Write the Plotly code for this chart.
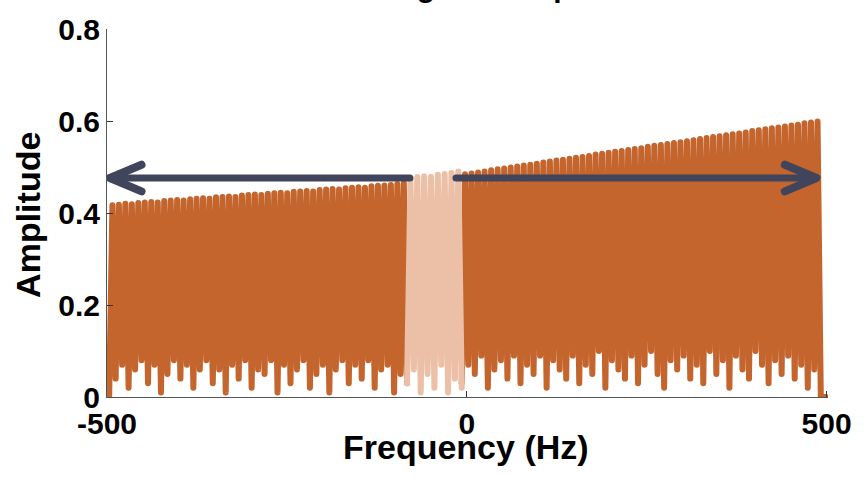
import numpy as np
import plotly.graph_objects as go

# ---------------- data ----------------
left_band = (-497, -83)     # Hz
mid_band = (-83, -7)
right_band = (-7, 492)
right_tail = (499, 0.0)

left_peaks = [0.417, 0.418, 0.420, 0.419, 0.422, 0.423, 0.424, 0.423, 0.426, 0.427,
              0.428, 0.427, 0.430, 0.431, 0.432, 0.431, 0.434, 0.435, 0.436, 0.435,
              0.438, 0.439, 0.440, 0.439, 0.442, 0.443, 0.444, 0.443, 0.446, 0.447,
              0.448, 0.447, 0.450, 0.451, 0.452, 0.451, 0.454, 0.455, 0.456, 0.455,
              0.458, 0.459, 0.460, 0.461, 0.463, 0.465]
left_troughs = [0.00, 0.04, 0.07, 0.02, 0.06, 0.08, 0.03, 0.07, 0.01, 0.05,
                0.08, 0.04, 0.07, 0.02, 0.06, 0.08, 0.03, 0.06, 0.01, 0.07,
                0.04, 0.08, 0.02, 0.06, 0.05, 0.08, 0.01, 0.07, 0.03, 0.06,
                0.08, 0.02, 0.05, 0.07, 0.01, 0.06, 0.08, 0.03, 0.07, 0.04,
                0.08, 0.02, 0.06, 0.07, 0.01, 0.05, 0.03]

mid_peaks = [0.474, 0.478, 0.480, 0.479, 0.483, 0.485, 0.487, 0.490]
mid_troughs = [0.03, 0.06, 0.01, 0.05, 0.02, 0.07, 0.01, 0.04, 0.02]

right_peaks = [0.484, 0.486, 0.488, 0.490, 0.493, 0.495, 0.497, 0.499, 0.501, 0.503,
               0.505, 0.507, 0.510, 0.512, 0.514, 0.516, 0.518, 0.520, 0.522, 0.524,
               0.527, 0.529, 0.531, 0.533, 0.535, 0.537, 0.539, 0.541, 0.544, 0.546,
               0.548, 0.550, 0.552, 0.554, 0.556, 0.558, 0.561, 0.563, 0.565, 0.567,
               0.569, 0.571, 0.573, 0.575, 0.578, 0.580, 0.582, 0.584, 0.586, 0.588,
               0.590, 0.592, 0.595, 0.597, 0.599]
right_troughs = [0.03, 0.07, 0.05, 0.09, 0.02, 0.06, 0.08, 0.04, 0.09, 0.03,
                 0.07, 0.05, 0.09, 0.02, 0.08, 0.06, 0.04, 0.09, 0.03, 0.07,
                 0.05, 0.10, 0.02, 0.08, 0.06, 0.04, 0.09, 0.03, 0.07, 0.10,
                 0.05, 0.02, 0.08, 0.06, 0.09, 0.04, 0.07, 0.03, 0.10, 0.05,
                 0.08, 0.02, 0.09, 0.06, 0.04, 0.10, 0.07, 0.03, 0.08, 0.05,
                 0.09, 0.04, 0.07, 0.02, 0.06, 0.00]

x_ticks = [-500, 0, 500]
x_ticklabels = ["-500", "0", "500"]
y_ticks = [0, 0.2, 0.4, 0.6, 0.8]
y_ticklabels = ["0", "0.2", "0.4", "0.6", "0.8"]

# arrows (Hz, amplitude)
arrow_y = 0.476
left_arrow = (-79, -496)
right_arrow = (-15, 486)
head_len = 44
head_half = 0.029

title_text = "Magnitude Spectrum"
x_title = "Frequency (Hz)"
y_title = "Amplitude"

ORANGE = "#C4652E"
LIGHT = "#ECC0A7"
NAVY = "#41455B"
FONT = "Liberation Sans, Arial, sans-serif"


def zigzag(band, peaks, troughs):
    n = len(peaks)
    f = np.linspace(band[0], band[1], 2 * n + 1)
    a = np.empty(2 * n + 1)
    a[0::2] = troughs[:n + 1]
    a[1::2] = peaks
    return f, a


fl, al = zigzag(left_band, left_peaks, left_troughs)
fm, am = zigzag(mid_band, mid_peaks, mid_troughs)
fr, ar = zigzag(right_band, right_peaks, right_troughs)
fr = np.append(fr, right_tail[0])
ar = np.append(ar, right_tail[1])

fig = go.Figure()
for f, a, c in [(fl, al, ORANGE), (fr, ar, ORANGE), (fm, am, LIGHT)]:
    fig.add_trace(go.Scatter(x=f, y=a, mode="lines", line=dict(color=c, width=6, simplify=False),
                             showlegend=False, hoverinfo="skip"))


def arrow(start, tip):
    d = 1 if tip > start else -1
    fig.add_trace(go.Scatter(x=[start, tip], y=[arrow_y, arrow_y], mode="lines",
                             line=dict(color=NAVY, width=7), showlegend=False, hoverinfo="skip"))
    fig.add_trace(go.Scatter(x=[tip - d * head_len, tip, tip - d * head_len],
                             y=[arrow_y + head_half, arrow_y, arrow_y - head_half], mode="lines",
                             line=dict(color=NAVY, width=8), showlegend=False, hoverinfo="skip"))


arrow(*left_arrow)
arrow(*right_arrow)

axis_common = dict(showgrid=False, zeroline=False, showline=True, linecolor="#555555",
                   linewidth=1, ticks="inside", ticklen=6, tickcolor="#333333",
                   tickfont=dict(family=FONT, size=30, color="black", weight="bold"))

fig.update_xaxes(range=[-500, 502], tickvals=x_ticks, ticktext=x_ticklabels, **axis_common)
fig.update_yaxes(range=[0, 0.8], tickvals=y_ticks, ticktext=y_ticklabels, **axis_common)

fig.update_layout(
    width=864, height=477,
    margin=dict(l=107, r=33, t=24, b=80),
    paper_bgcolor="white", plot_bgcolor="white",
    annotations=[
        dict(text=title_text, xref="paper", yref="paper", x=0.369, y=1.066,
             xanchor="left", yanchor="bottom", showarrow=False,
             font=dict(family=FONT, size=30, color="black", weight="bold")),
        dict(text=x_title, xref="paper", yref="paper", x=0.498, y=-0.137,
             xanchor="center", yanchor="middle", showarrow=False,
             font=dict(family=FONT, size=34, color="black", weight="bold")),
        dict(text=y_title, xref="paper", yref="paper", x=-0.109, y=0.496,
             xanchor="center", yanchor="middle", showarrow=False, textangle=-90,
             font=dict(family=FONT, size=34, color="black", weight="bold")),
    ],
)

post = ("document.querySelectorAll('path.js-line').forEach(function(p){"
        "p.style.strokeLinejoin='round';p.style.strokeLinecap='round';});")
fig.write_html("out.html", post_script=post)
